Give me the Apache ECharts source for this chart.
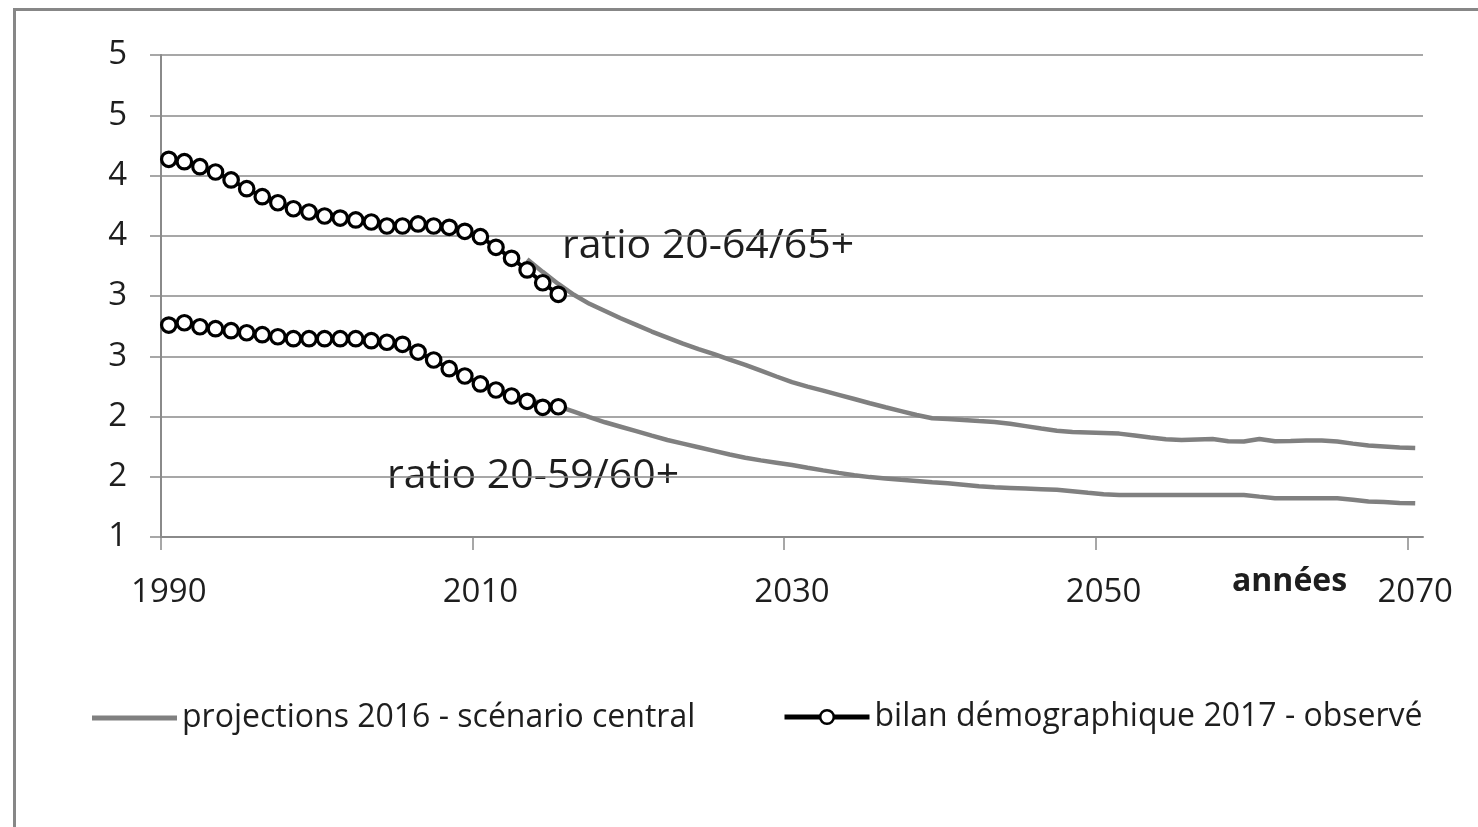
<!DOCTYPE html>
<html><head><meta charset="utf-8">
<script src="https://cdn.jsdelivr.net/npm/echarts@6/dist/echarts.min.js"></script>
<style>html,body{margin:0;padding:0;background:#fff}#c{width:1478px;height:827px}</style>
</head><body><div id="c"></div>
<script>
// ---- data ----
const obsYears = [1990,1991,1992,1993,1994,1995,1996,1997,1998,1999,2000,2001,2002,2003,2004,2005,2006,2007,2008,2009,2010,2011,2012,2013,2014,2015];
const obsRatio6465 = [4.134,4.115,4.073,4.029,3.963,3.891,3.824,3.774,3.724,3.697,3.664,3.647,3.631,3.614,3.581,3.581,3.598,3.581,3.570,3.537,3.492,3.404,3.313,3.216,3.110,3.014];
const obsRatio5960 = [2.759,2.778,2.745,2.729,2.712,2.695,2.679,2.662,2.646,2.646,2.646,2.646,2.646,2.629,2.616,2.599,2.535,2.469,2.397,2.336,2.270,2.220,2.170,2.126,2.076,2.081];
const projYears = [2013,2014,2015,2016,2017,2018,2019,2020,2021,2022,2023,2024,2025,2026,2027,2028,2029,2030,2031,2032,2033,2034,2035,2036,2037,2038,2039,2040,2041,2042,2043,2044,2045,2046,2047,2048,2049,2050,2051,2052,2053,2054,2055,2056,2057,2058,2059,2060,2061,2062,2063,2064,2065,2066,2067,2068,2069,2070];
const projRatio6465 = [3.305,3.20,3.10,3.01,2.935,2.875,2.815,2.76,2.705,2.655,2.605,2.56,2.518,2.472,2.428,2.38,2.332,2.285,2.248,2.215,2.18,2.145,2.11,2.077,2.045,2.012,1.985,1.98,1.97,1.962,1.955,1.94,1.92,1.90,1.882,1.872,1.868,1.863,1.858,1.842,1.825,1.812,1.805,1.81,1.813,1.795,1.792,1.814,1.795,1.797,1.80,1.80,1.792,1.775,1.76,1.752,1.743,1.739];
const projRatio5960 = [2.14,2.11,2.085,2.04,1.995,1.952,1.915,1.878,1.841,1.805,1.775,1.745,1.715,1.685,1.658,1.636,1.617,1.598,1.575,1.553,1.532,1.513,1.497,1.486,1.475,1.465,1.455,1.446,1.434,1.422,1.412,1.407,1.402,1.397,1.392,1.38,1.367,1.355,1.349,1.349,1.349,1.349,1.349,1.349,1.349,1.349,1.349,1.335,1.322,1.321,1.321,1.321,1.321,1.31,1.295,1.29,1.283,1.28];
const xLabelYears = [1990,2010,2030,2050,2070];
const firstYear = 1990, lastYear = 2070;
const nameProj = 'projections 2016 - scénario central';
const nameObs = 'bilan démographique 2017 - observé';
const labelHigh = 'ratio 20-64/65+';
const labelLow = 'ratio 20-59/60+';
const xName = 'années';

// ---- chart ----
const FONT = 'Open Sans';
const TXT = '#1e1e1e';
const GRAY = '#8a8a8a';
const pair = (xs, ys) => xs.map((x, i) => [x, ys[i]]);
const chart = echarts.init(document.getElementById('c'), null, {renderer: 'canvas'});

const projStyle = {
  type: 'line', name: nameProj, symbol: 'none', z: 2,
  lineStyle: {color: '#808080', width: 4.5}, itemStyle: {color: '#808080'},
  animation: false
};
const obsStyle = {
  type: 'line', name: nameObs, symbol: 'circle', symbolSize: 14.5, showAllSymbol: true, z: 3,
  lineStyle: {color: '#000', width: 4},
  itemStyle: {color: '#fff', borderColor: '#000', borderWidth: 3.2},
  animation: false
};

const option = {
  backgroundColor: '#fff',
  animation: false,
  grid: {left: 161, right: 55, top: 55, bottom: 290, containLabel: false},
  xAxis: {
    type: 'value', min: firstYear - 0.5, max: lastYear + 0.5,
    axisLine: {show: true, lineStyle: {color: GRAY, width: 2}},
    axisTick: {show: true, length: 13, lineStyle: {color: GRAY, width: 1.5},
      customValues: xLabelYears.map(y => y - 0.5)},
    axisLabel: {customValues: xLabelYears, formatter: v => String(v), margin: 39,
      fontFamily: FONT, fontSize: 33, color: TXT},
    splitLine: {show: false}
  },
  yAxis: {
    type: 'value', min: 1, max: 5, interval: 0.5,
    axisLine: {show: true, lineStyle: {color: GRAY, width: 2}},
    axisTick: {show: true, length: 11, lineStyle: {color: GRAY, width: 1.5}},
    axisLabel: {formatter: v => String(Math.round(v)), margin: 34,
      fontFamily: FONT, fontSize: 33, color: TXT},
    splitLine: {show: true, lineStyle: {color: GRAY, width: 1.5}}
  },
  legend: [
    {data: [{name: nameProj, icon: 'rect'}], left: 92, top: 702, padding: 0,
      itemWidth: 85, itemHeight: 5, itemStyle: {color: '#808080'},
      textStyle: {fontFamily: FONT, fontSize: 32, color: TXT}, selectedMode: false},
    {data: [nameObs], left: 782, top: 701, padding: 0, itemWidth: 85, itemHeight: 17,
      lineStyle: {color: '#000', width: 5},
      itemStyle: {color: '#fff', borderColor: '#000', borderWidth: 2.5},
      textStyle: {fontFamily: FONT, fontSize: 32, color: TXT}, selectedMode: false}
  ],
  series: [
    Object.assign({}, projStyle, {data: pair(projYears, projRatio6465)}),
    Object.assign({}, projStyle, {data: pair(projYears, projRatio5960)}),
    Object.assign({}, obsStyle, {data: pair(obsYears, obsRatio6465)}),
    Object.assign({}, obsStyle, {data: pair(obsYears, obsRatio5960)})
  ],
  graphic: [
    {type: 'rect', left: 12, top: 7, z: -10, silent: true,
      shape: {x: 0, y: 0, width: 1500, height: 850},
      style: {fill: 'none', stroke: '#878787', lineWidth: 3}},
    {type: 'text', x: 562, y: 246, silent: true,
      style: {text: labelHigh, font: '41px "Open Sans"', fill: TXT, textAlign: 'left', textVerticalAlign: 'middle'}},
    {type: 'text', x: 387, y: 476, silent: true,
      style: {text: labelLow, font: '41px "Open Sans"', fill: TXT, textAlign: 'left', textVerticalAlign: 'middle'}},
    {type: 'text', x: 1232, y: 582, silent: true,
      style: {text: xName, font: 'bold 32px "Open Sans"', fill: TXT, textAlign: 'left', textVerticalAlign: 'middle'}}
  ]
};
chart.setOption(option);
</script>
</body></html>
